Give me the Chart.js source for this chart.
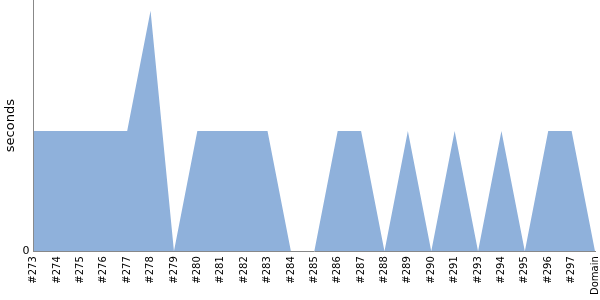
<!DOCTYPE html>
<html>
<head>
<meta charset="utf-8">
<script src="https://cdn.jsdelivr.net/npm/chart.js@4/dist/chart.umd.min.js"></script>
<style>
  html, body { margin: 0; padding: 0; background: #fff; }
  #wrap { width: 600px; height: 300px; position: relative; }
</style>
</head>
<body>
<div id="wrap"><canvas id="chart"></canvas></div>
<script>
// build labels, one per build plus the domain total
const buildLabels = ['#273', '#274', '#275', '#276', '#277', '#278', '#279', '#280', '#281', '#282',
    '#283', '#284', '#285', '#286', '#287', '#288', '#289', '#290', '#291', '#293',
    '#294', '#295', '#296', '#297', 'Domain'];

// duration in seconds
const durations = [1, 1, 1, 1, 1, 2, 0, 1, 1, 1,
    1, 0, 0, 1, 1, 0, 1, 0, 1, 0,
    1, 0, 1, 1, 0];

// only the zero tick is labelled on the value axis
const yTicks = [0];

const fillColor = '#8fb1db';
const axisColor = '#888888';

Chart.defaults.font.family = '"DejaVu Sans", sans-serif';
Chart.defaults.color = '#000';

// drop the label overhang padding so the plot runs to the canvas edges
const noOverhang = (scale) => {
    scale.paddingTop = 0;
    scale.paddingRight = 0;
};

new Chart(document.getElementById('chart'), {
    type: 'line',
    data: {
        labels: buildLabels,
        datasets: [{
            label: 'seconds',
            data: durations,
            fill: 'origin',
            backgroundColor: fillColor,
            borderWidth: 0,
            pointRadius: 0,
            tension: 0
        }]
    },
    options: {
        responsive: true,
        maintainAspectRatio: false,
        animation: false,
        layout: { padding: { top: 0, right: 5, left: 3, bottom: 0 } },
        plugins: {
            legend: { display: false },
            tooltip: { enabled: false }
        },
        scales: {
            x: {
                offset: false,
                grid: { display: false, drawTicks: false },
                border: { display: true, color: axisColor },
                afterFit: noOverhang,
                ticks: {
                    minRotation: 90,
                    maxRotation: 90,
                    autoSkip: false,
                    font: { size: 10 },
                    padding: 5
                }
            },
            y: {
                min: 0,
                max: 2.09,
                grid: { display: false, drawTicks: false },
                border: { display: true, color: axisColor },
                title: { display: true, text: 'seconds', font: { size: 13 }, padding: 0 },
                afterBuildTicks: (axis) => {
                    axis.ticks = yTicks.map(v => ({ value: v }));
                },
                afterFit: noOverhang,
                ticks: {
                    font: { size: 11 },
                    padding: 4
                }
            }
        }
    }
});
</script>
</body>
</html>
